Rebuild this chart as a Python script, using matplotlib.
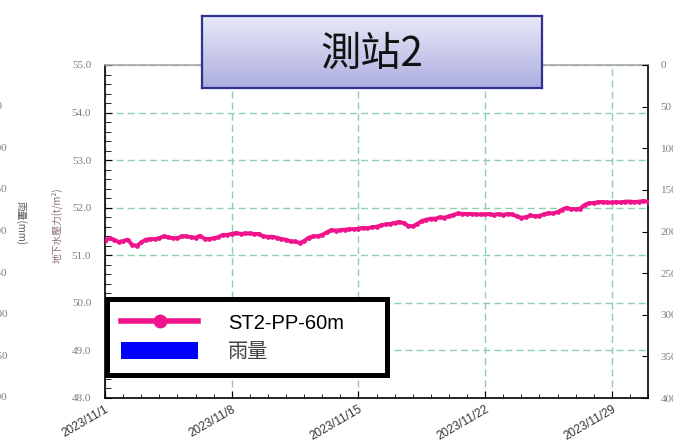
import numpy as np
import pandas as pd
import matplotlib
matplotlib.use("Agg")
import matplotlib.pyplot as plt
import matplotlib.dates as mdates
import matplotlib.transforms as mtransforms
from matplotlib.lines import Line2D
from matplotlib.patches import Patch

plt.rcParams['font.family'] = ['Noto Sans CJK TC', 'DejaVu Sans']

# groundwater pressure (t/m2), 6-hourly readings 2023/11/1 00:00 -> 2023/12/1 00:00
pressure = [
    51.30, 51.36, 51.33, 51.28, 51.30, 51.33, 51.22, 51.20, 51.27, 51.33,
    51.34, 51.34, 51.36, 51.40, 51.38, 51.36, 51.36, 51.40, 51.40, 51.38,
    51.37, 51.41, 51.35, 51.34, 51.36, 51.38, 51.43, 51.43, 51.45, 51.47,
    51.45, 51.46, 51.46, 51.45, 51.45, 51.40, 51.39, 51.39, 51.37, 51.34,
    51.33, 51.29, 51.29, 51.26, 51.30, 51.37, 51.40, 51.40, 51.43, 51.48,
    51.53, 51.52, 51.53, 51.54, 51.55, 51.55, 51.56, 51.58, 51.57, 51.59,
    51.60, 51.63, 51.65, 51.66, 51.68, 51.70, 51.68, 51.62, 51.61, 51.66,
    51.72, 51.75, 51.77, 51.77, 51.80, 51.79, 51.82, 51.85, 51.88, 51.87,
    51.87, 51.87, 51.86, 51.86, 51.86, 51.87, 51.85, 51.87, 51.85, 51.87,
    51.86, 51.82, 51.79, 51.80, 51.84, 51.82, 51.83, 51.86, 51.89, 51.88,
    51.91, 51.96, 52.00, 51.97, 51.97, 51.98, 52.06, 52.10, 52.10, 52.12,
    52.12, 52.11, 52.11, 52.12, 52.11, 52.13, 52.13, 52.12, 52.13, 52.14,
    52.13,
]
times = pd.date_range("2023-11-01", periods=len(pressure), freq="6h")

rain_ticks = [0, 50, 100, 150, 200, 250, 300, 350, 400]
press_ticks = [48.0, 49.0, 50.0, 51.0, 52.0, 53.0, 54.0, 55.0]
major_dates = pd.to_datetime(["2023-11-01", "2023-11-08", "2023-11-15",
                              "2023-11-22", "2023-11-29"])

line_color = "#f0148c"
grid_color = "#8ecfae"
tick_color = "#7f7f7f"
serif = "Liberation Serif"

fig = plt.figure(figsize=(6.73, 4.47), dpi=100)
ax = fig.add_axes([105/673, 49/447, 543/673, 333/447])

ax.plot(times, pressure, color=line_color, lw=2.8, marker="o", ms=2.4, zorder=3)

ax.set_xlim(pd.Timestamp("2023-11-01"), pd.Timestamp("2023-12-01"))
ax.set_ylim(48, 55)
ax.set_yticks(press_ticks)
ax.set_yticklabels([f"{v:.1f}" for v in press_ticks], fontfamily=serif,
                   fontsize=8, color=tick_color)
ax.yaxis.set_minor_locator(matplotlib.ticker.MultipleLocator(0.2))
ax.set_xticks(major_dates)
ax.set_xticklabels([f"{d.year}/{d.month}/{d.day}" for d in major_dates])
ax.xaxis.set_minor_locator(mdates.DayLocator())
ax.tick_params(axis="y", which="both", direction="in", pad=10, left=True)
ax.tick_params(axis="y", which="major", length=5)
ax.tick_params(axis="y", which="minor", length=4)
ax.tick_params(axis="x", which="major", direction="in", length=5, pad=4)
ax.tick_params(axis="x", which="minor", direction="in", length=3)
for lab in ax.get_xticklabels():
    lab.set_rotation(30)
    lab.set_ha("right")
    lab.set_rotation_mode("anchor")
    lab.set_fontfamily("Liberation Sans")
    lab.set_fontsize(8.5)
    lab.set_color("#333333")

ax.grid(True, which="major", color=grid_color, ls=(0, (5, 3)), lw=1)
for s in ["left", "bottom", "right"]:
    ax.spines[s].set_color("black")
    ax.spines[s].set_linewidth(1.2)
ax.spines["top"].set_color("#a6a6a6")
ax.spines["top"].set_linewidth(1.2)

fig.text(57/673, 1 - 225/447, "地下水壓力(t/m²)", rotation=90, ha="center",
         va="center", fontsize=7, color="#8a7070")

# rainfall axis (inverted) on the right
ax2 = ax.twinx()
ax2.set_ylim(400, 0)
ax2.set_yticks(rain_ticks)
ax2.set_yticklabels([str(v) for v in rain_ticks], fontfamily=serif,
                    fontsize=8, color=tick_color)
ax2.tick_params(axis="y", direction="in", length=4, pad=9)
for s in ax2.spines.values():
    s.set_visible(False)

# mirrored rainfall scale, mostly outside the figure on the left
trans = mtransforms.blended_transform_factory(ax.transAxes, ax2.transData)
for v in rain_ticks:
    ax.text(-114/543, v, str(v), transform=trans, ha="left", va="center",
            fontfamily=serif, fontsize=8, color=tick_color, clip_on=False)
fig.text(21/673, 1 - 223/447, "雨量(mm)", rotation=-90, ha="center",
         va="center", fontsize=7, color="#595959")

# legend
handles = [Line2D([], [], color=line_color, lw=4, marker="o", ms=9),
           Patch(facecolor="#0000ff", edgecolor="none")]
leg = ax.legend(handles, ["ST2-PP-60m", "雨量"], loc="lower left",
                bbox_to_anchor=(0.004, 0.068, 0.516, 0.22), mode="expand",
                prop={"family": ["Liberation Sans", "Noto Sans CJK TC"],
                      "size": 14.5},
                frameon=True, framealpha=1, fancybox=False, handlelength=3.8,
                handleheight=0.9, handletextpad=1.5, borderpad=0.7,
                labelspacing=0.45, borderaxespad=0)
leg.get_frame().set_edgecolor("black")
leg.get_frame().set_linewidth(3.6)
leg.get_texts()[1].set_color("#404040")
leg.set_zorder(5)

# title box with gradient
tax = fig.add_axes([202/673, 1 - 88/447, 340/673, 72/447], zorder=10)
grad = np.linspace(0, 1, 64).reshape(-1, 1)
cmap = matplotlib.colors.LinearSegmentedColormap.from_list(
    "tb", ["#e9e9f8", "#adaee0"])
tax.imshow(grad, aspect="auto", cmap=cmap, extent=[0, 1, 0, 1])
tax.set_xticks([])
tax.set_yticks([])
for s in tax.spines.values():
    s.set_color("#2e318f")
    s.set_linewidth(1.6)
tax.text(0.5, 0.47, "測站2", ha="center", va="center", fontsize=29,
         color="#111111", transform=tax.transAxes)

fig.savefig("out.png", dpi=100)
